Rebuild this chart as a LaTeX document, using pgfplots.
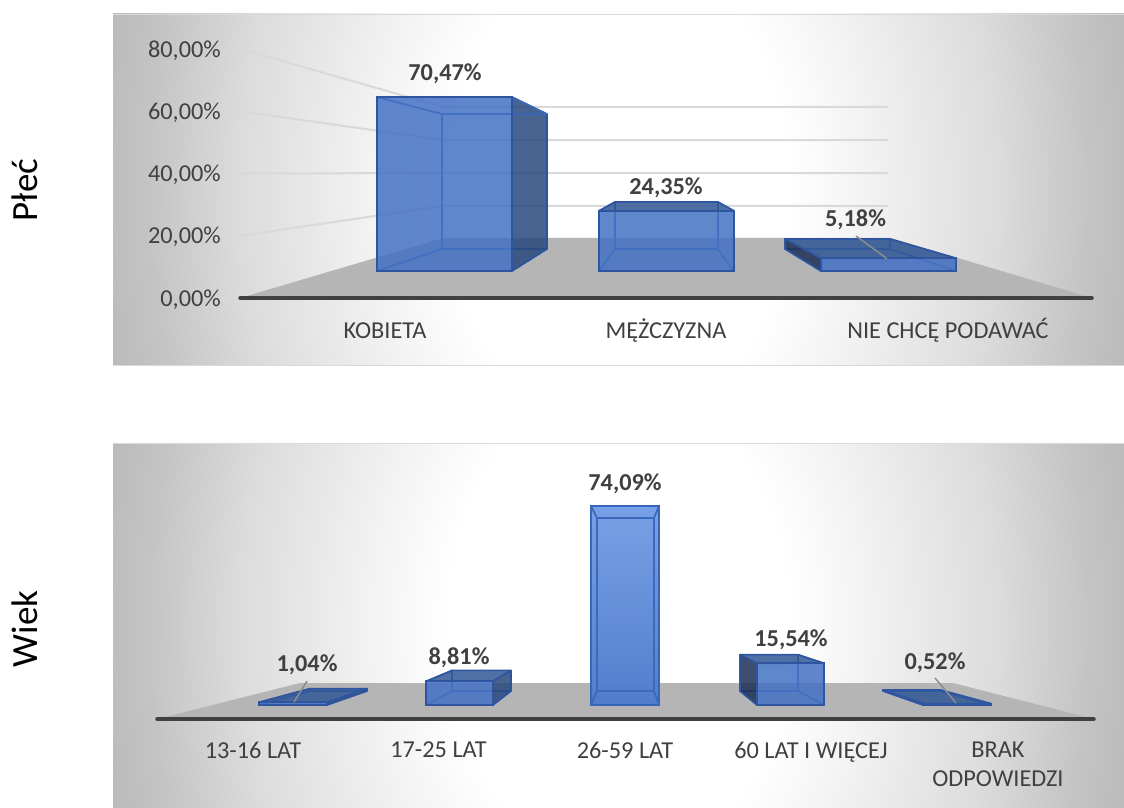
\documentclass[border=0pt]{standalone}
\usepackage{pgfplots}
\pgfplotsset{compat=1.18}
\usepackage{fontspec}
\setmainfont{Carlito}
\definecolor{txt}{RGB}{64,64,64}
\definecolor{floorc}{RGB}{181,181,181}
\definecolor{gridc}{RGB}{217,217,217}
\definecolor{edgec}{RGB}{47,85,160}
\definecolor{innerc}{RGB}{58,105,190}
\definecolor{frontc}{RGB}{68,114,196}
\definecolor{sidec}{RGB}{40,72,125}
\definecolor{topc}{RGB}{48,88,150}
\definecolor{darkc}{RGB}{30,48,85}
\definecolor{leadc}{RGB}{140,140,140}
\definecolor{ga}{RGB}{244,244,244}
\definecolor{gb}{RGB}{220,220,220}
\definecolor{gc}{RGB}{196,196,196}
\definecolor{gd}{RGB}{184,184,184}
\definecolor{hitop}{RGB}{125,165,235}
\definecolor{hibot}{RGB}{80,125,205}
\pgfdeclareradialshading{panelshade}{\pgfpointorigin}{%
  color(0bp)=(white); color(7.5bp)=(white); color(10.5bp)=(ga);
  color(16.6bp)=(gb); color(20.6bp)=(gc); color(23.5bp)=(gd); color(50bp)=(gd)}
\newcommand{\lfont}{\fontsize{24.3}{29}\selectfont}
\pgfplotsset{
  face/.style={draw=innerc, line width=1.5pt, fill=none, line join=round},
  dark/.style={face, draw=edgec, fill=darkc, fill opacity=.85},
  side/.style={face, draw=edgec, fill=sidec, fill opacity=.85},
  lid/.style={face, draw=edgec, fill=topc, fill opacity=.85},
  front/.style={ybar, bar shift=0pt, draw=edgec, line width=2pt, fill=frontc, fill opacity=.85},
  lead/.style={leadc, line width=1.5pt},
  plane/.style={scale only axis, clip=false},
}
\tikzset{lab/.style={font=\lfont\bfseries, text=txt, inner sep=0pt, yshift=-1.5pt}}
% args: front left, front right, value, back left, back right, back top, left/right/top style
\newcommand{\boxbar}[9]{%
  \addplot[face] coordinates {(#4,\bz) (#5,\bz) (#5,#6) (#4,#6)} -- cycle;
  \addplot[face] coordinates {(#1,0) (#2,0) (#5,\bz) (#4,\bz)} -- cycle;
  \addplot[#7] coordinates {(#1,0) (#4,\bz) (#4,#6) (#1,#3)} -- cycle;
  \addplot[#8] coordinates {(#2,0) (#5,\bz) (#5,#6) (#2,#3)} -- cycle;
  \addplot[#9] coordinates {(#1,#3) (#2,#3) (#5,#6) (#4,#6)} -- cycle;
}
\begin{document}
\begin{tikzpicture}[x=1pt,y=1pt]
\useasboundingbox (0,0) rectangle (1124,807);
% panels
\begin{scope}
  \clip (113,441) rectangle (1124,793);
  \shade[shading=panelshade] (48.5,-183) rectangle (1188.5,1417);
\end{scope}
\begin{scope}
  \clip (113,0) rectangle (1124,364);
  \shade[shading=panelshade] (48.5,-618) rectangle (1188.5,982);
\end{scope}
\draw[gridc, line width=1pt] (113,441.5) -- (1124,441.5) (113,792.5) -- (1124,792.5) (113,363.5) -- (1124,363.5);
\node[rotate=90, font=\fontsize{37}{40}\selectfont] at (25,617) {Płeć};
\node[rotate=90, font=\fontsize{37}{40}\selectfont] at (25,178) {Wiek};

% top chart: scale of the tick labels, floor and walls
\begin{axis}[plane, axis on top, at={(240pt,509pt)}, width=852pt, height=249pt,
  xmin=240, xmax=1092, ymin=0, ymax=80,
  axis x line*=bottom, axis y line*=left,
  x axis line style={txt, line width=3.5pt, line cap=round, -},
  y axis line style={draw=none},
  major tick length=0pt,
  ytick={0,20,40,60,80},
  yticklabel={\pgfmathprintnumber{\tick}\%},
  /pgf/number format/fixed, /pgf/number format/fixed zerofill, /pgf/number format/precision=2,
  /pgf/number format/use comma, /pgf/number format/1000 sep={}, /pgf/number format/assume math mode=true,
  yticklabel style={font=\lfont, text=txt, inner sep=0pt, xshift=-19pt, yshift=-1.5pt},
  xtick={385,666,948},
  xticklabels={KOBIETA,MĘŻCZYZNA,NIE CHCĘ PODAWAĆ},
  xticklabel style={font=\lfont, text=txt, inner sep=0pt, anchor=north, text height=16pt, yshift=-24pt},
]
\addplot[draw=none, fill=floorc] coordinates {(240,0) (1092,0) (891,19.28) (443,19.28)} -- cycle;
\addplot[gridc, line width=2pt] coordinates {(240,80) (443,61.37) (888,61.37)};
\addplot[gridc, line width=2pt] coordinates {(240,60) (443,50.76) (888,50.76)};
\addplot[gridc, line width=2pt] coordinates {(240,40) (443,40.16) (888,40.16)};
\addplot[gridc, line width=2pt] coordinates {(240,20) (443,29.56) (888,29.56)};
\end{axis}

% top chart: bars, on the scale of their front plane
\begin{axis}[plane, hide axis, at={(240pt,509pt)}, width=852pt, height=224.5pt,
  xmin=240, xmax=1092, ymin=-10.94, ymax=80]
\def\bz{8.91}
\boxbar{377}{512}{70.47}{442}{547}{63.59}{face}{side}{face}
\boxbar{599}{734}{24.35}{615}{718}{27.95}{face}{face}{lid}
\boxbar{821}{956}{5.18}{785}{890}{12.96}{dark}{face}{lid}
\addplot[front, bar width=135pt] coordinates {(444.5,70.47) (666.5,24.35) (888.5,5.18)};
\addplot[lead] coordinates {(856,14.18) (887,4.98)};
\node[lab] at (axis cs:445,80.6) {70,47\%};
\node[lab] at (axis cs:666,34.4) {24,35\%};
\node[lab] at (axis cs:855.5,21.5) {5,18\%};
\end{axis}

% bottom chart
\begin{axis}[plane, axis on top, at={(157pt,88pt)}, width=937pt, height=242.3pt,
  xmin=157, xmax=1094, ymin=-5.21, ymax=85,
  axis x line*=bottom, axis y line=none,
  x axis line style={txt, line width=3.5pt, line cap=round, -},
  major tick length=0pt,
  xtick={253,438.5,625,811,998},
  xticklabels={13-16 LAT,17-25 LAT,26-59 LAT,60 LAT I WIĘCEJ,{BRAK\\ODPOWIEDZI}},
  xticklabel style={font=\lfont, text=txt, inner sep=0pt, anchor=north, align=center, yshift=-23pt},
]
\addplot[draw=none, fill=floorc] coordinates {(157,-5.21) (1094,-5.21) (953,8.19) (300,8.19)} -- cycle;
\def\bz{5.21}
\boxbar{259}{327}{1.04}{310}{367}{6.11}{face}{side}{lid}
\boxbar{426}{493}{8.81}{452}{511}{12.88}{face}{side}{lid}
\boxbar{757}{824}{15.54}{740}{798}{18.73}{dark}{face}{lid}
\boxbar{923}{991}{0.52}{883}{940}{5.66}{dark}{face}{lid}
\addplot[front, bar width=67.5pt] coordinates {(293,1.04) (459.5,8.81) (790.5,15.54) (957,0.52)};
\addplot[front, bar width=67.5pt, shade, top color=hitop, bottom color=hibot] coordinates {(625,74.09)};
\boxbar{591}{659}{74.09}{597}{654}{69.62}{face}{face}{face}
\addplot[lead] coordinates {(307,8.94) (294,1.12)};
\addplot[lead] coordinates {(935,10.05) (956,0.74)};
\node[lab] at (axis cs:307,15.64) {1,04\%};
\node[lab] at (axis cs:459,18.24) {8,81\%};
\node[lab] at (axis cs:625,83) {74,09\%};
\node[lab] at (axis cs:791,24.94) {15,54\%};
\node[lab] at (axis cs:935,16.38) {0,52\%};
\end{axis}
\end{tikzpicture}
\end{document}
